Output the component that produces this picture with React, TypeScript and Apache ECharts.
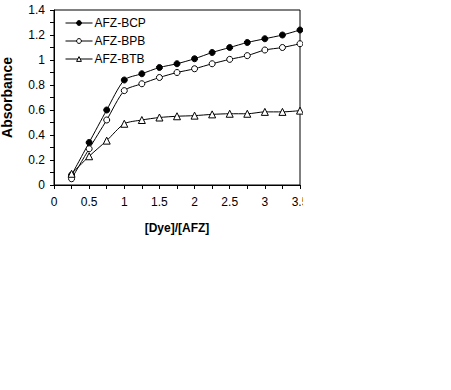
import React, { useEffect, useRef } from "react";
import * as echarts from "echarts";

const xValues = [0.25, 0.5, 0.75, 1.0, 1.25, 1.5, 1.75, 2.0, 2.25, 2.5, 2.75, 3.0, 3.25, 3.5];
const bcp = [0.08, 0.34, 0.6, 0.84, 0.89, 0.94, 0.97, 1.01, 1.06, 1.1, 1.14, 1.17, 1.2, 1.24];
const bpb = [0.05, 0.29, 0.52, 0.755, 0.81, 0.86, 0.9, 0.93, 0.97, 1.005, 1.035, 1.08, 1.1, 1.13];
const btb = [0.09, 0.23, 0.355, 0.49, 0.52, 0.54, 0.55, 0.555, 0.565, 0.57, 0.57, 0.585, 0.585, 0.595];
const seriesNames = ["AFZ-BCP", "AFZ-BPB", "AFZ-BTB"];

const FONT = "Liberation Sans, Arial, sans-serif";

export default function App() {
  const ref = useRef<HTMLDivElement>(null);
  useEffect(() => {
    if (!ref.current) return;
    const chart = echarts.init(ref.current, null, { renderer: "svg" });
    const pairs = (ys: number[]) => xValues.map((x, i) => [x, ys[i]]);
    const mk = (name: string, ys: number[], symbol: string, fill: string, size: number) => ({
      name,
      type: "line",
      data: pairs(ys),
      smooth: 0.25,
      symbol,
      symbolSize: size,
      showSymbol: true,
      lineStyle: { color: "#000", width: 1 },
      itemStyle: { color: fill, borderColor: "#000", borderWidth: 1 },
      emphasis: { disabled: true },
    });
    chart.setOption({
      animation: false,
      backgroundColor: "#fff",
      textStyle: { fontFamily: FONT },
      grid: {
        left: 54,
        top: 10,
        width: 246,
        height: 175,
        show: true,
        outerBoundsMode: "none",
        containLabel: false,
        borderColor: "#000",
        borderWidth: 1,
        backgroundColor: "transparent",
      },
      legend: {
        orient: "vertical",
        left: 65,
        top: 17,
        itemGap: 6,
        itemWidth: 27,
        itemHeight: 6,
        padding: 0,
        itemStyle: { borderWidth: 1, borderColor: "#000" },
        lineStyle: { width: 1, color: "#000" },
        textStyle: { fontFamily: FONT, fontSize: 12, color: "#000", padding: [0, 0, 0, -3] },
        data: seriesNames,
      },
      xAxis: {
        type: "value",
        min: 0,
        max: 3.5,
        interval: 0.5,
        name: "[Dye]/[AFZ]",
        nameLocation: "middle",
        nameGap: 37,
        nameTextStyle: { fontFamily: FONT, fontSize: 12, fontWeight: "bold", color: "#000" },
        axisLine: { lineStyle: { color: "#000", width: 1 } },
        axisTick: { show: true, length: 4, lineStyle: { color: "#000" } },
        minorTick: { show: true, splitNumber: 2, length: 4, lineStyle: { color: "#000" } },
        axisLabel: { fontFamily: FONT, fontSize: 12, color: "#000", margin: 11 },
        splitLine: { show: false },
      },
      yAxis: {
        type: "value",
        min: 0,
        max: 1.4,
        interval: 0.2,
        name: "Absorbance",
        nameLocation: "middle",
        nameGap: 40,
        nameRotate: 90,
        nameTextStyle: { fontFamily: FONT, fontSize: 14, fontWeight: "bold", color: "#000" },
        axisLine: { show: true, lineStyle: { color: "#000", width: 1 } },
        axisTick: { show: true, length: 4, lineStyle: { color: "#000" } },
        minorTick: { show: true, splitNumber: 2, length: 4, lineStyle: { color: "#000" } },
        axisLabel: { fontFamily: FONT, fontSize: 12, color: "#000", margin: 9 },
        splitLine: { show: false },
      },
      series: [
        mk(seriesNames[0], bcp, "circle", "#000", 6),
        mk(seriesNames[1], bpb, "circle", "#fff", 6),
        mk(seriesNames[2], btb, "triangle", "#fff", 7),
      ],
    });
    return () => chart.dispose();
  }, []);
  return (
    <div style={{ position: "absolute", left: 0, top: 0, width: 451, height: 390, background: "#fff" }}>
      <div style={{ position: "absolute", left: 0, top: 0, width: 303, height: 240, overflow: "hidden" }}>
        <div ref={ref} style={{ width: 307, height: 240 }} />
      </div>
    </div>
  );
}
